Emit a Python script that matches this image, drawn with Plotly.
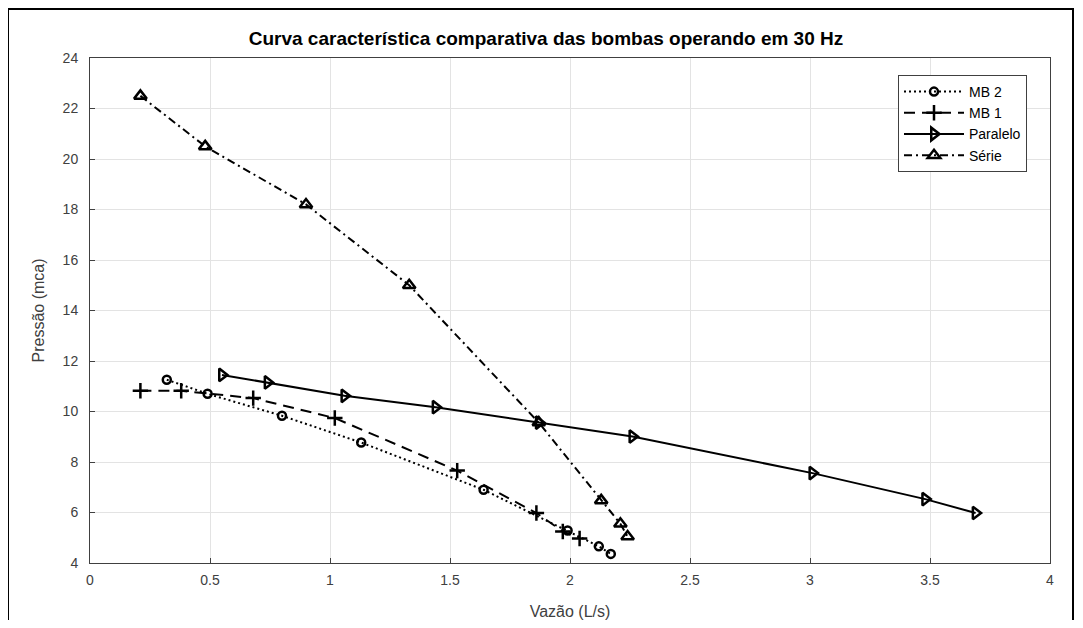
import plotly.graph_objects as go

mb2_q = [0.32, 0.49, 0.80, 1.13, 1.64, 1.99, 2.12, 2.17]
mb2_p = [11.26, 10.70, 9.83, 8.77, 6.90, 5.29, 4.66, 4.36]

mb1_q = [0.21, 0.38, 0.68, 1.02, 1.53, 1.86, 1.97, 2.04]
mb1_p = [10.82, 10.82, 10.53, 9.74, 7.66, 5.98, 5.25, 4.97]

par_q = [0.55, 0.74, 1.06, 1.44, 1.87, 2.26, 3.01, 3.48, 3.69]
par_p = [11.45, 11.15, 10.62, 10.17, 9.56, 9.01, 7.56, 6.53, 5.98]

ser_q = [0.21, 0.48, 0.90, 1.33, 1.87, 2.13, 2.21, 2.24]
ser_p = [22.5, 20.5, 18.2, 15.0, 9.56, 6.48, 5.55, 5.05]

x_ticks = [0, 0.5, 1, 1.5, 2, 2.5, 3, 3.5, 4]
y_ticks = [4, 6, 8, 10, 12, 14, 16, 18, 20, 22, 24]

series = [
    ("MB 2", mb2_q, mb2_p, "2px,3px", "circle-open", 8),
    ("MB 1", mb1_q, mb1_p, "11px,7px", "cross-thin-open", 11),
    ("Paralelo", par_q, par_p, "solid", "triangle-right-open", 11),
    ("Série", ser_q, ser_p, "8px,4px,2px,4px", "triangle-up-open", 11),
]

fig = go.Figure()
for name, q, p, dash, sym, size in series:
    fig.add_trace(go.Scatter(
        x=q, y=p, name=name, mode="lines+markers",
        line=dict(color="black", width=2, dash=dash),
        marker=dict(symbol=sym, size=size, color="black",
                    line=dict(color="black", width=2.5)),
    ))

axis_common = dict(
    showline=True, mirror=True, linecolor="#404040", linewidth=1,
    ticks="inside", ticklen=5, tickcolor="#404040",
    showgrid=True, gridcolor="#e3e3e3", gridwidth=1,
    zeroline=False, tickfont=dict(size=14, color="#404040"),
    automargin=False,
)
fig.update_xaxes(range=[0, 4], tickvals=x_ticks, ticklabelstandoff=4,
                 title=dict(text="Vazão (L/s)", font=dict(size=16, color="#404040"), standoff=20),
                 **axis_common)
fig.update_yaxes(range=[4, 24], tickvals=y_ticks, ticklabelstandoff=8,
                 title=dict(text="Pressão (mca)", font=dict(size=16, color="#404040"), standoff=14),
                 **axis_common)

# black frame round the figure (page has an 8px body margin)
fig.add_shape(type="rect", xref="paper", yref="paper",
              x0=-82 / 960, x1=1065 / 960 - 82 / 960, y0=-0.2, y1=1 + 49 / 505,
              line=dict(color="black", width=2))

fig.update_layout(
    width=1067, height=612,
    margin=dict(l=82, r=25, t=50, b=57),
    paper_bgcolor="white", plot_bgcolor="white",
    font=dict(family="Liberation Sans, Arial, sans-serif", color="black"),
    title=dict(text="<b>Curva característica comparativa das bombas operando em 30 Hz</b>",
               x=0.475, xref="paper", xanchor="center", y=1 - 30 / 612, yanchor="middle",
               font=dict(size=19, color="black")),
    showlegend=True,
    legend=dict(x=(1027 - 90) / 960, y=1 - (75 - 58) / 505, xanchor="right", yanchor="top",
                bgcolor="white", bordercolor="#404040", borderwidth=1,
                font=dict(size=14, color="black"), itemwidth=60,
                tracegroupgap=0),
)

fig.write_html("out.html")
